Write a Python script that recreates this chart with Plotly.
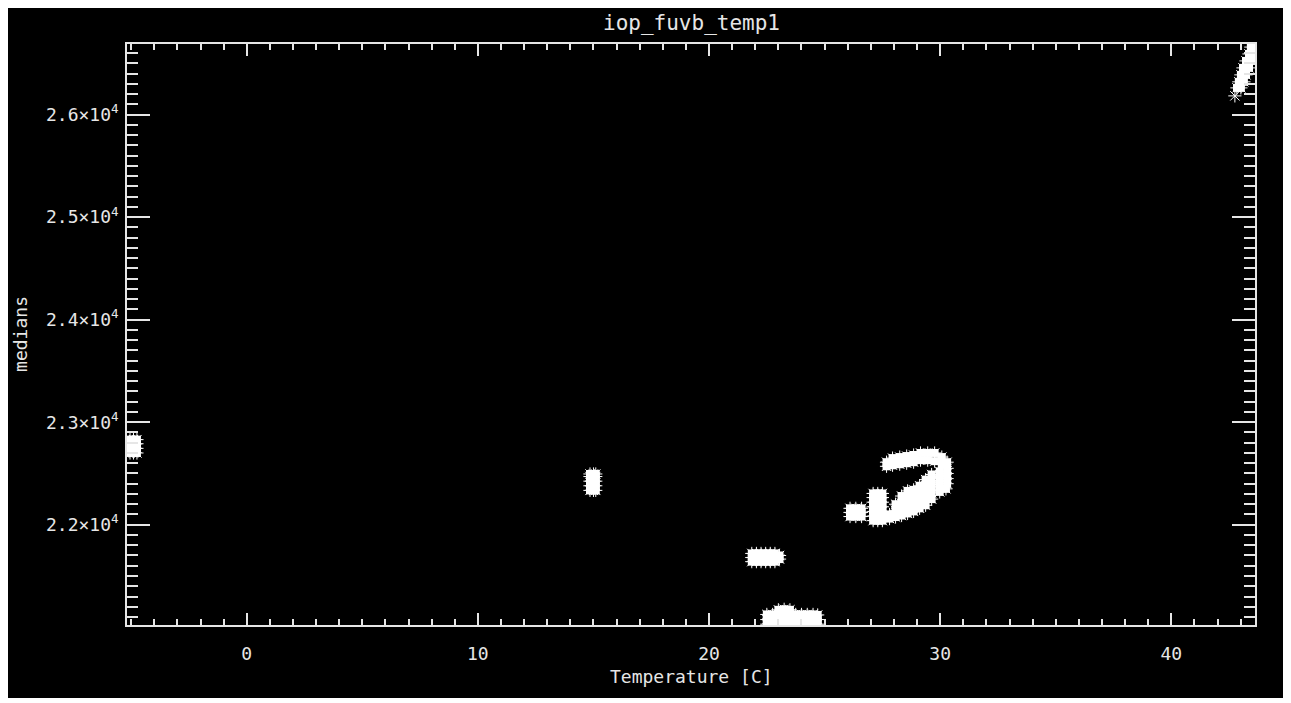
import plotly.graph_objects as go

# ---- data (temperature [C], medians), grouped by cluster ----
# cold end at the left edge
cold_t = [-5.05, -5.05, -5.05, -5.05, -4.9, -4.9, -4.9, -4.9, -4.75, -4.75, -4.75, -4.75]
cold_m = [22700, 22745, 22790, 22830, 22700, 22745, 22790, 22830, 22700, 22745, 22790, 22830]

# small group near 15 C
t15_t = [14.85, 14.85, 14.85, 14.85, 14.85, 15.0, 15.0, 15.0, 15.0, 15.0, 15.1, 15.1, 15.1, 15.1, 15.1]
t15_m = [22335, 22380, 22425, 22470, 22495, 22335, 22380, 22425, 22470, 22495, 22335, 22380, 22425, 22470, 22495]

# group near 22 C, 2.17e4
t22_t = [21.85, 21.85, 21.85, 22.05, 22.05, 22.05, 22.25, 22.25, 22.25, 22.45, 22.45, 22.45,
         22.65, 22.65, 22.65, 22.85, 22.85, 22.85, 23.05, 23.05]
t22_m = [21640, 21680, 21720, 21640, 21680, 21720, 21640, 21680, 21720, 21640, 21680, 21720,
         21640, 21680, 21720, 21640, 21680, 21720, 21665, 21700]

# group at the bottom, 22.5 - 24.7 C
low_t = [22.5, 22.5, 22.5, 22.75, 22.75, 22.75, 23.0, 23.0, 23.0, 23.0, 23.25, 23.25, 23.25, 23.25,
         23.5, 23.5, 23.5, 23.5, 23.75, 23.75, 23.75, 24.0, 24.0, 24.0, 24.25, 24.25, 24.25,
         24.5, 24.5, 24.5, 24.7, 24.7, 24.7]
low_m = [21030, 21075, 21125, 21030, 21075, 21125, 21030, 21075, 21125, 21170, 21030, 21075, 21125, 21175,
         21030, 21075, 21125, 21170, 21030, 21075, 21125, 21030, 21075, 21125, 21030, 21075, 21125,
         21030, 21075, 21125, 21030, 21075, 21120]

# square patch near 26 C
sq_t = [26.1, 26.1, 26.1, 26.35, 26.35, 26.35, 26.6, 26.6, 26.6]
sq_m = [22080, 22120, 22160, 22080, 22120, 22160, 22080, 22120, 22160]

# vertical bar near 27.3 C
bar_t = [27.1] * 7 + [27.3] * 7 + [27.5] * 7
bar_m = [22040, 22085, 22130, 22175, 22220, 22265, 22305] * 3

# hook 27.7 - 30.3 C (top band, right side, lower band)
hook_t = [27.68, 27.68, 27.94, 27.94, 28.25, 28.25, 28.55, 28.55, 28.85, 28.85,
          29.15, 29.15, 29.46, 29.46, 29.76, 29.76, 30.07, 30.07, 30.3, 30.3,
          30.3, 30.3, 30.3, 30.25, 29.98, 29.98, 29.98, 29.98, 29.98,
          27.81, 27.81, 28.07, 28.07, 28.07, 28.33, 28.33, 28.33, 28.33,
          28.59, 28.59, 28.59, 28.59, 28.59, 28.85, 28.85, 28.85, 28.85, 28.85,
          29.11, 29.11, 29.11, 29.11, 29.11, 29.37, 29.37, 29.37, 29.37, 29.37,
          29.63, 29.63, 29.63, 29.63, 29.63]
hook_m = [22610, 22570, 22650, 22580, 22660, 22590, 22670, 22600, 22680, 22610,
          22700, 22630, 22700, 22630, 22700, 22620, 22660, 22590, 22610, 22550,
          22500, 22450, 22400, 22350, 22520, 22470, 22420, 22370, 22320,
          22100, 22060, 22200, 22140, 22075, 22280, 22210, 22150, 22090,
          22330, 22270, 22210, 22160, 22110, 22340, 22280, 22220, 22160, 22130,
          22380, 22320, 22260, 22200, 22160, 22440, 22380, 22320, 22260, 22190,
          22490, 22430, 22370, 22310, 22250]

# hot end streak at the top right
hot_t = [43.44, 43.66, 43.36, 43.57, 43.23, 43.49, 43.1, 43.36, 43.01, 43.23, 42.92, 43.14, 42.84, 43.01]
hot_m = [26659, 26659, 26592, 26592, 26524, 26524, 26456, 26456, 26388, 26388, 26320, 26320, 26261, 26261]

# isolated point below the streak
lone_t = [42.75]
lone_m = [26183]

x_ticks = [0, 10, 20, 30, 40]
x_ticktext = ["0", "10", "20", "30", "40"]
y_ticks = [22000, 23000, 24000, 25000, 26000]
y_ticktext = ["2.2×10<sup>4</sup>", "2.3×10<sup>4</sup>", "2.4×10<sup>4</sup>",
              "2.5×10<sup>4</sup>", "2.6×10<sup>4</sup>"]

temps = cold_t + t15_t + t22_t + low_t + sq_t + bar_t + hook_t + hot_t
meds = cold_m + t15_m + t22_m + low_m + sq_m + bar_m + hook_m + hot_m

FG = "#e6e6e6"
FONT = "DejaVu Sans Mono"

fig = go.Figure()
# solid core of the dense groups
fig.add_trace(go.Scatter(x=temps, y=meds, mode="markers",
                         marker=dict(symbol="square", size=8, color="white", line=dict(width=0))))
# psym=2 style asterisks
fig.add_trace(go.Scatter(x=temps + lone_t, y=meds + lone_m, mode="markers",
                         marker=dict(symbol="asterisk-open", size=11, color="white",
                                     line=dict(color="white", width=1))))

axis_common = dict(showgrid=False, zeroline=False, showline=True, linecolor=FG, linewidth=1.5,
                   mirror="ticks", ticks="inside", tickcolor=FG, tickwidth=1.5,
                   tickfont=dict(family=FONT, size=18, color=FG))

fig.update_xaxes(range=[-5.18, 43.62], tickmode="array", tickvals=x_ticks, ticktext=x_ticktext,
                 ticklen=12, ticklabelstandoff=12,
                 minor=dict(dtick=1, tick0=0, ticks="inside", ticklen=6, tickcolor=FG, tickwidth=1.5),
                 **axis_common)
fig.update_yaxes(range=[21022, 26689], tickmode="array", tickvals=y_ticks, ticktext=y_ticktext,
                 ticklen=23, ticklabelstandoff=3,
                 minor=dict(dtick=100, tick0=0, ticks="inside", ticklen=11, tickcolor=FG, tickwidth=1.5),
                 **axis_common)

# page body adds an 8 px white border, so the figure itself is the black frame
fig.update_layout(
    width=1277, height=690,
    margin=dict(l=119, r=30, t=36, b=73),
    paper_bgcolor="black", plot_bgcolor="black",
    showlegend=False,
    annotations=[
        dict(text="iop_fuvb_temp1", xref="paper", yref="paper", x=0.5, y=1.06,
             showarrow=False, yanchor="top", font=dict(family=FONT, size=21, color=FG)),
        dict(text="Temperature [C]", xref="paper", yref="paper", x=0.5, y=-0.088,
             showarrow=False, yanchor="middle", font=dict(family=FONT, size=18, color=FG)),
        dict(text="medians", xref="paper", yref="paper", x=-0.094, y=0.501, textangle=-90,
             showarrow=False, xanchor="center", font=dict(family=FONT, size=18, color=FG)),
    ],
)

fig.write_html("out.html")
